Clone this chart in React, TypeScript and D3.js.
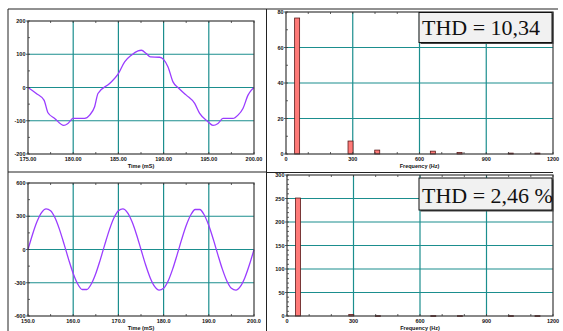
import React from "react";
import * as d3 from "d3";

// ---- data ----
const wave1Time = [175.0, 175.92, 176.77, 177.21, 177.95, 178.95, 179.42, 179.98, 181.27, 181.82, 182.37, 182.74, 184.03, 184.96, 185.69, 186.43, 187.17, 187.54, 188.09, 188.53, 189.56, 190.01, 190.49, 191.04, 191.59, 192.51, 193.44, 193.99, 194.91, 195.46, 196.02, 196.57, 197.68, 198.23, 198.78, 199.34, 199.71, 200.0];
const wave1Value = [0, -18, -38, -76, -93, -114, -108, -93, -93, -83, -58, -18, 12, 40, 77, 97, 110, 112, 102, 92, 91, 84, 62, 17, 0, -23, -48, -78, -103, -114, -108, -93, -93, -83, -63, -23, -8, 0];

const wave2Time = d3.range(150, 201, 1);
const wave2Value = [0, 136, 252, 333, 367, 350, 284, 177, 46, -91, -216, -311, -361, -361, -311, -216, -91, 46, 177, 284, 350, 367, 333, 252, 136, 0, -136, -252, -333, -367, -350, -284, -177, -46, 91, 216, 311, 361, 361, 311, 216, 91, -46, -177, -284, -350, -367, -333, -252, -136, 0];

const harmFreq = [50, 290, 410, 660, 780, 1010, 1130];
const spec1Value = [76.6, 7.3, 2.2, 1.6, 0.8, 0.5, 0.5];
const spec2Value = [251, 3, 0.8, 0.8, 0.8, 0.8, 0.8];

const timeTicks1 = [175, 180, 185, 190, 195, 200];
const timeTicks2 = [150, 160, 170, 180, 190, 200];
const ampTicks1 = [-200, -100, 0, 100, 200];
const ampTicks2 = [-600, -300, 0, 300, 600];
const freqTicks = [0, 300, 600, 900, 1200];
const specTicks1 = [0, 20, 40, 60, 80];
const specTicks2 = [0, 50, 100, 150, 200, 250, 300];

const thd1 = "THD = 10,34";
const thd2 = "THD = 2,46 %";

const GRID = "#1b8e8e";
const FRAME = "#3a3a3a";
const LBL = { fontFamily: "'Liberation Sans Narrow', 'Liberation Sans', Arial, sans-serif", fontSize: 5.5, fontWeight: 700 as const, fill: "#111" };

type PanelProps = {
  x0: number; x1: number; y0: number; y1: number;
  xDomain: [number, number]; yDomain: [number, number];
  xTicks: number[]; yTicks: number[];
  xMinor: number; yMinor: number;
  xFmt: (v: number) => string;
  title: string;
  children: (x: d3.ScaleLinear<number, number>, y: d3.ScaleLinear<number, number>) => React.ReactNode;
};

function Panel(p: PanelProps) {
  const x = d3.scaleLinear().domain(p.xDomain).range([p.x0, p.x1]);
  const y = d3.scaleLinear().domain(p.yDomain).range([p.y1, p.y0]);
  const xm = d3.range(p.xDomain[0], p.xDomain[1] + 1e-9, p.xMinor);
  const ym = d3.range(p.yDomain[0], p.yDomain[1] + 1e-9, p.yMinor);
  return (
    <g>
      {p.xTicks.slice(1, -1).map((t) => (
        <line key={"gx" + t} x1={x(t)} x2={x(t)} y1={p.y0} y2={p.y1} stroke={GRID} strokeWidth={1.2} />
      ))}
      {p.yTicks.slice(1, -1).map((t) => (
        <line key={"gy" + t} x1={p.x0} x2={p.x1} y1={y(t)} y2={y(t)} stroke={GRID} strokeWidth={1.2} />
      ))}
      {p.children(x, y)}
      {xm.map((t) => (
        <g key={"mx" + t}>
          <line x1={x(t)} x2={x(t)} y1={p.y1} y2={p.y1 - 2} stroke={FRAME} strokeWidth={0.8} />
          <line x1={x(t)} x2={x(t)} y1={p.y0} y2={p.y0 + 2} stroke={FRAME} strokeWidth={0.8} />
        </g>
      ))}
      {ym.map((t) => (
        <line key={"my" + t} x1={p.x0} x2={p.x0 + 2} y1={y(t)} y2={y(t)} stroke={FRAME} strokeWidth={0.8} />
      ))}
      <rect x={p.x0} y={p.y0} width={p.x1 - p.x0} height={p.y1 - p.y0} fill="none" stroke={FRAME} strokeWidth={1.2} />
      {p.yTicks.map((t) => (
        <g key={"ly" + t}>
          <line x1={p.x0 - 2} x2={p.x0} y1={y(t)} y2={y(t)} stroke={FRAME} strokeWidth={0.8} />
          <text x={p.x0 - 2.5} y={y(t) + 2} textAnchor="end" {...LBL}>{t}</text>
        </g>
      ))}
      {p.xTicks.map((t) => (
        <text key={"lx" + t} x={x(t)} y={p.y1 + 6.5} textAnchor="middle" {...LBL}>{p.xFmt(t)}</text>
      ))}
      <text x={(p.x0 + p.x1) / 2} y={p.y1 + 13.5} textAnchor="middle" {...LBL}>{p.title}</text>
    </g>
  );
}

function Waveform(times: number[], values: number[]) {
  return (x: d3.ScaleLinear<number, number>, y: d3.ScaleLinear<number, number>) => {
    const line = d3.line<number>().x((_, i) => x(times[i])).y((v) => y(v)).curve(d3.curveMonotoneX);
    return <path d={line(values) || ""} fill="none" stroke="#9a3cff" strokeWidth={1.3} />;
  };
}

function Bars(freqs: number[], values: number[]) {
  return (x: d3.ScaleLinear<number, number>, y: d3.ScaleLinear<number, number>) => (
    <g>
      {freqs.map((f, i) => (
        <rect key={f} x={x(f) - 2.5} y={y(values[i])} width={5} height={Math.max(0.8, y(0) - y(values[i]))}
          fill="#ff7a78" stroke="#5a1a1a" strokeWidth={0.8} />
      ))}
    </g>
  );
}

function ThdBox({ x, y, w, h, text }: { x: number; y: number; w: number; h: number; text: string }) {
  return (
    <g>
      <rect x={x + 1.5} y={y + 1.5} width={w} height={h} fill="#444" />
      <rect x={x} y={y} width={w} height={h} fill="#f1f1f1" stroke="#111" strokeWidth={1} />
      <text x={x + 3} y={y + h - 7.5} fontFamily="'Liberation Serif', 'Times New Roman', serif" fontSize={22} fill="#111">{text}</text>
    </g>
  );
}

export default function App() {
  const f2 = (v: number) => v.toFixed(2);
  const f1 = (v: number) => v.toFixed(1);
  const f0 = (v: number) => String(v);
  return (
    <div style={{ position: "absolute", left: 0, top: 0 }}>
      <svg width={563} height={331} style={{ display: "block", background: "#fff" }}>
        {/* frame lines */}
        <line x1={8} x2={558} y1={9} y2={9} stroke="#222" strokeWidth={1} />
        <line x1={8} x2={8} y1={9} y2={331} stroke="#222" strokeWidth={1} />
        <line x1={266.5} x2={266.5} y1={9} y2={331} stroke="#222" strokeWidth={1} />
        <line x1={8} x2={266.5} y1={172} y2={172} stroke="#222" strokeWidth={1} />
        <line x1={266.5} x2={553} y1={172.5} y2={172.5} stroke="#222" strokeWidth={1} />

        <Panel x0={28} x1={254} y0={21} y1={154} xDomain={[175, 200]} yDomain={[-200, 200]}
          xTicks={timeTicks1} yTicks={ampTicks1} xMinor={2.5} yMinor={50} xFmt={f2} title="Time (mS)">
          {Waveform(wave1Time, wave1Value)}
        </Panel>
        <Panel x0={286} x1={553} y0={12} y1={154} xDomain={[0, 1200]} yDomain={[0, 80]}
          xTicks={freqTicks} yTicks={specTicks1} xMinor={100} yMinor={10} xFmt={f0} title="Frequency (Hz)">
          {Bars(harmFreq, spec1Value)}
        </Panel>
        <Panel x0={28} x1={254} y0={183} y1={316} xDomain={[150, 200]} yDomain={[-600, 600]}
          xTicks={timeTicks2} yTicks={ampTicks2} xMinor={5} yMinor={150} xFmt={f1} title="Time (mS)">
          {Waveform(wave2Time, wave2Value)}
        </Panel>
        <Panel x0={287} x1={553} y0={175} y1={316} xDomain={[0, 1200]} yDomain={[0, 300]}
          xTicks={freqTicks} yTicks={specTicks2} xMinor={100} yMinor={10} xFmt={f0} title="Frequency (Hz)">
          {Bars(harmFreq, spec2Value)}
        </Panel>

        <ThdBox x={419} y={12.5} w={133} h={30} text={thd1} />
        <ThdBox x={419} y={178} w={133} h={32} text={thd2} />
      </svg>
    </div>
  );
}
